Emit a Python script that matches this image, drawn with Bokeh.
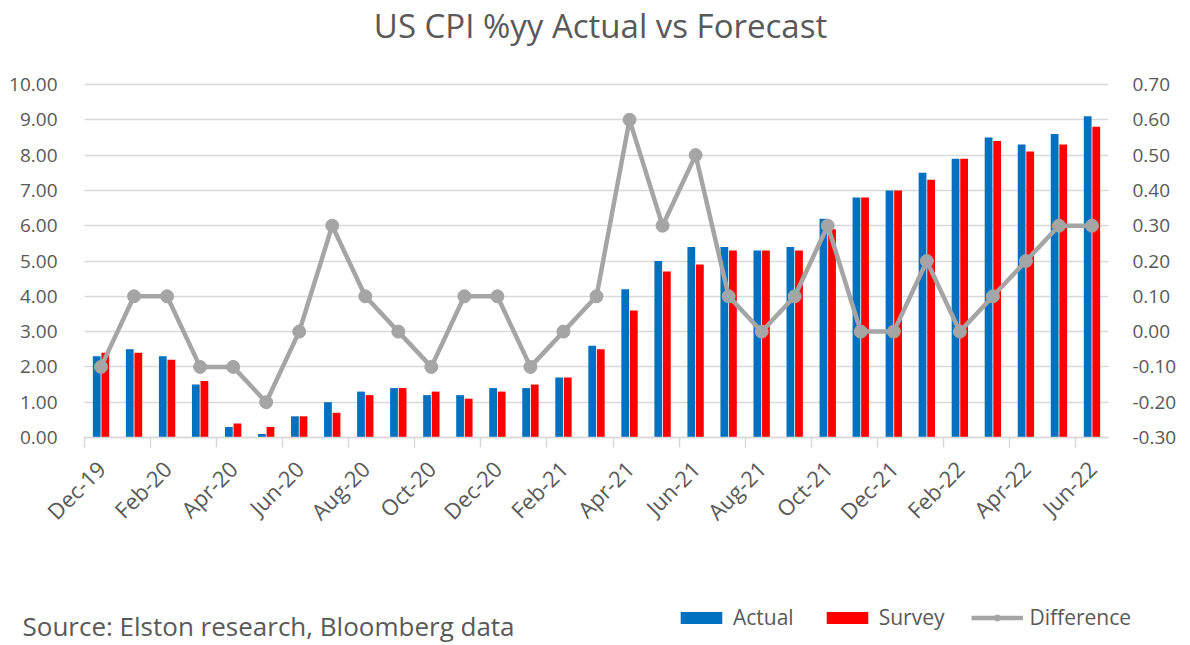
from bokeh.plotting import figure
from bokeh.models import (Range1d, LinearAxis, FixedTicker, NumeralTickFormatter,
                          Legend, LegendItem, Label, ColumnDataSource)
from bokeh.transform import dodge
from bokeh.embed import file_html
from bokeh.resources import INLINE
from math import pi

months = ["Dec-19", "Jan-20", "Feb-20", "Mar-20", "Apr-20", "May-20", "Jun-20", "Jul-20",
          "Aug-20", "Sep-20", "Oct-20", "Nov-20", "Dec-20", "Jan-21", "Feb-21", "Mar-21",
          "Apr-21", "May-21", "Jun-21", "Jul-21", "Aug-21", "Sep-21", "Oct-21", "Nov-21",
          "Dec-21", "Jan-22", "Feb-22", "Mar-22", "Apr-22", "May-22", "Jun-22"]
actual = [2.3, 2.5, 2.3, 1.5, 0.3, 0.1, 0.6, 1.0, 1.3, 1.4, 1.2, 1.2, 1.4, 1.4, 1.7, 2.6,
          4.2, 5.0, 5.4, 5.4, 5.3, 5.4, 6.2, 6.8, 7.0, 7.5, 7.9, 8.5, 8.3, 8.6, 9.1]
survey = [2.4, 2.4, 2.2, 1.6, 0.4, 0.3, 0.6, 0.7, 1.2, 1.4, 1.3, 1.1, 1.3, 1.5, 1.7, 2.5,
          3.6, 4.7, 4.9, 5.3, 5.3, 5.3, 5.9, 6.8, 7.0, 7.3, 7.9, 8.4, 8.1, 8.3, 8.8]
difference = [-0.1, 0.1, 0.1, -0.1, -0.1, -0.2, 0.0, 0.3, 0.1, 0.0, -0.1, 0.1, 0.1, -0.1, 0.0, 0.1,
              0.6, 0.3, 0.5, 0.1, 0.0, 0.1, 0.3, 0.0, 0.0, 0.2, 0.0, 0.1, 0.2, 0.3, 0.3]
left_ticks = [0, 1, 2, 3, 4, 5, 6, 7, 8, 9, 10]
right_ticks = [-0.3, -0.2, -0.1, 0.0, 0.1, 0.2, 0.3, 0.4, 0.5, 0.6, 0.7]

title_text = "US CPI %yy Actual vs Forecast"
source_text = "Source: Elston research, Bloomberg data"

BLUE = "#0070C0"
RED = "#FF0000"
GRAY = "#A5A5A5"
TEXT = "#595959"
GRID = "#D9D9D9"
FONT = "Open Sans"

# layout (pixels). The frame covers the whole canvas; axes are pinned.
W, H = 1182, 642
PLOT_LEFT, PLOT_RIGHT, PLOT_TOP, PLOT_BOTTOM = 84, 1108, 84, 437

n = len(months)
xs = list(range(n))
x_lo, x_hi = -0.5, n - 0.5
ppx = (PLOT_RIGHT - PLOT_LEFT) / (x_hi - x_lo)
ppl = (PLOT_BOTTOM - PLOT_TOP) / (left_ticks[-1] - left_ticks[0])
ppr = (PLOT_BOTTOM - PLOT_TOP) / (right_ticks[-1] - right_ticks[0])

src = ColumnDataSource(dict(x=xs, actual=actual, survey=survey, diff=difference))

p = figure(width=W, height=H, output_backend="svg", toolbar_location=None,
           x_range=Range1d(x_lo - PLOT_LEFT / ppx, x_hi + (W - PLOT_RIGHT) / ppx),
           y_range=Range1d(left_ticks[0] - (H - PLOT_BOTTOM) / ppl,
                           left_ticks[-1] + PLOT_TOP / ppl),
           min_border=0)
p.extra_y_ranges = {"diff": Range1d(right_ticks[0] - (H - PLOT_BOTTOM) / ppr,
                                    right_ticks[-1] + PLOT_TOP / ppr)}
p.outline_line_color = None
p.background_fill_color = "white"
p.border_fill_color = "white"

r_act = p.vbar(x=dodge("x", -0.13), top="actual", width=0.235, source=src,
               fill_color=BLUE, line_color=None)
r_sur = p.vbar(x=dodge("x", 0.13), top="survey", width=0.235, source=src,
               fill_color=RED, line_color=None)
r_line = p.line("x", "diff", source=src, y_range_name="diff", line_color=GRAY, line_width=4.5)
r_dot = p.scatter("x", "diff", source=src, y_range_name="diff", size=13,
                  fill_color=GRAY, line_color=GRAY)

# x axis, pinned at zero of the value axis
xa = p.xaxis[0]
xa.fixed_location = 0
xa.bounds = (x_lo, x_hi)
xa.ticker = FixedTicker(ticks=xs[::2], minor_ticks=[i - 0.5 for i in xs[::2]])
xa.major_label_overrides = {i: months[i] for i in xs[::2]}
xa.major_label_orientation = pi / 4
xa.major_tick_line_color = None
xa.major_tick_in = 0
xa.major_tick_out = 0
xa.minor_tick_line_color = GRID
xa.minor_tick_line_width = 1.5
xa.minor_tick_in = 0
xa.minor_tick_out = 10
xa.axis_line_color = GRID
xa.axis_line_width = 1.5
xa.major_label_standoff = 17
xa.major_label_text_font = FONT
xa.major_label_text_font_size = "22px"
xa.major_label_text_color = TEXT

# left axis, pinned at the left edge of the categories
ya = p.yaxis[0]
ya.fixed_location = x_lo
ya.bounds = (left_ticks[0], left_ticks[-1])
ya.ticker = FixedTicker(ticks=left_ticks)
ya.formatter = NumeralTickFormatter(format="0.00")
ya.axis_line_color = None
ya.major_tick_line_color = None
ya.major_tick_in = 0
ya.major_tick_out = 0
ya.minor_tick_line_color = None
ya.major_label_standoff = 27
ya.major_label_text_font = FONT
ya.major_label_text_font_size = "19px"
ya.major_label_text_color = TEXT

# right axis, pinned at the right edge of the categories
ra = LinearAxis(y_range_name="diff", ticker=FixedTicker(ticks=right_ticks),
                formatter=NumeralTickFormatter(format="0.00"),
                fixed_location=x_hi, bounds=(right_ticks[0], right_ticks[-1]))
ra.axis_line_color = None
ra.major_tick_line_color = None
ra.major_tick_in = 0
ra.major_tick_out = 0
ra.minor_tick_line_color = None
ra.major_label_standoff = 24
ra.major_label_text_font = FONT
ra.major_label_text_font_size = "19px"
ra.major_label_text_color = TEXT
p.add_layout(ra, "right")

p.xgrid.grid_line_color = None
g = p.ygrid[0]
g.grid_line_color = GRID
g.grid_line_width = 1.5
g.ticker = FixedTicker(ticks=left_ticks)
if "cross_bounds" in g.properties():
    g.cross_bounds = (x_lo, x_hi)
else:
    g.grid_line_color = None
    p.segment(x0=[x_lo] * len(left_ticks), x1=[x_hi] * len(left_ticks),
              y0=left_ticks, y1=left_ticks, line_color=GRID, line_width=1.5, level="underlay")

legend = Legend(items=[LegendItem(label="Actual", renderers=[r_act]),
                       LegendItem(label="Survey", renderers=[r_sur]),
                       LegendItem(label="Difference", renderers=[r_line, r_dot])],
                location=(675, H - 631), orientation="horizontal")
legend.border_line_color = None
legend.background_fill_alpha = 0
legend.label_text_font = FONT
legend.label_text_font_size = "21px"
legend.label_text_color = TEXT
legend.glyph_width = 52
legend.glyph_height = 15
legend.label_standoff = 6
legend.spacing = 27
legend.padding = 0
legend.margin = 0
p.add_layout(legend, "center")

p.add_layout(Label(x=600, y=H - 25, x_units="screen", y_units="screen", text=title_text,
                   text_font=FONT, text_font_size="33px", text_color=TEXT,
                   text_align="center", text_baseline="alphabetic"))
p.add_layout(Label(x=22, y=H - 625, x_units="screen", y_units="screen", text=source_text,
                   text_font=FONT, text_font_size="26px", text_color=TEXT,
                   text_align="left", text_baseline="alphabetic"))

open("out.html", "w").write(file_html(p, INLINE))
